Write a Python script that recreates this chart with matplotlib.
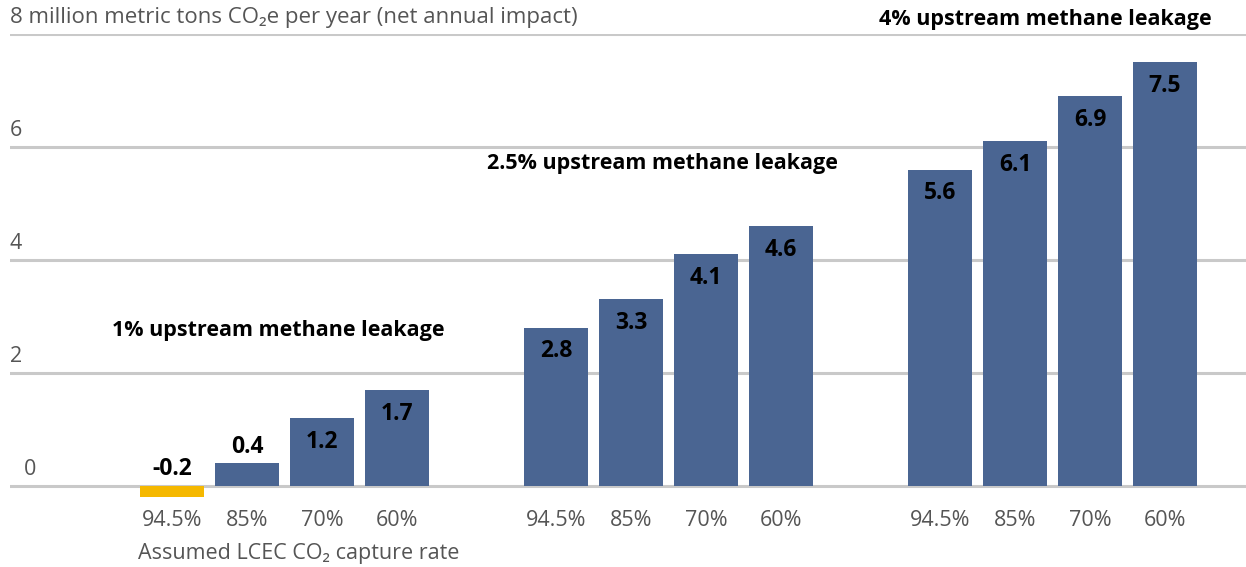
import matplotlib.pyplot as plt

plt.rcParams['font.family'] = ['Open Sans', 'DejaVu Sans']

capture_rates = ['94.5%', '85%', '70%', '60%']
leakage_groups = ['1% upstream methane leakage',
                  '2.5% upstream methane leakage',
                  '4% upstream methane leakage']
values = [
    [-0.2, 0.4, 1.2, 1.7],
    [2.8, 3.3, 4.1, 4.6],
    [5.6, 6.1, 6.9, 7.5],
]
y_ticks = [0, 2, 4, 6, 8]

blue = '#4a6592'
yellow = '#f5b800'
grid_gray = '#c9c9c9'
text_gray = '#555555'

fig = plt.figure(figsize=(12.46, 5.67), dpi=100)
ax = fig.add_axes([10 / 1246, 1 - 500 / 567, 1 - 10 / 1246, (500 - 34) / 567])

group_gap = 5.12
bar_w = 0.85
x_left, x_right = -2.16, 14.32
ax.set_xlim(x_left, x_right)
ax.set_ylim(-0.25, 8)

for yv in y_ticks:
    ax.axhline(yv, color=grid_gray, lw=2.2, zorder=0)
    xpos = 0.011 if yv == 0 else 0.0
    label = str(yv)
    size = 15.5
    if yv == 8:
        label = '8 million metric tons CO\u2082e per year (net annual impact)'
        size = 16
    ax.text(xpos, yv + 0.1, label, transform=ax.get_yaxis_transform(),
            ha='left', va='bottom', fontsize=size, color=text_gray)

for g, vals in enumerate(values):
    xs = [g * group_gap + i for i in range(len(vals))]
    colors = [yellow if v < 0 else blue for v in vals]
    ax.bar(xs, vals, width=bar_w, color=colors, zorder=2)
    for i, (x, v) in enumerate(zip(xs, vals)):
        if v < 1.0:
            y = max(v, 0) + 0.08
            va = 'bottom'
        else:
            y = v - 0.42
            va = 'center'
        ax.text(x, y, f'{v:.1f}', ha='center', va=va, fontsize=16.5,
                fontweight='bold', color='black', zorder=3)
        ax.text(x, -0.42, capture_rates[i], ha='center', va='top',
                fontsize=15.5, color=text_gray, clip_on=False)

ax.text(-0.45, -1.02, 'Assumed LCEC CO\u2082 capture rate', ha='left', va='top',
        fontsize=15.5, color=text_gray, clip_on=False)

# group titles
ax.text(1.42, 2.75, leakage_groups[0], ha='center', va='center',
        fontsize=15.5, fontweight='bold', color='black')
ax.text(group_gap + 1.42, 5.7, leakage_groups[1], ha='center', va='center',
        fontsize=15.5, fontweight='bold', color='black')
ax.text(2 * group_gap + 3.62, 8.25, leakage_groups[2], ha='right', va='center',
        fontsize=15.5, fontweight='bold', color='black', clip_on=False)

ax.axis('off')
fig.savefig('out.png', dpi=100)
